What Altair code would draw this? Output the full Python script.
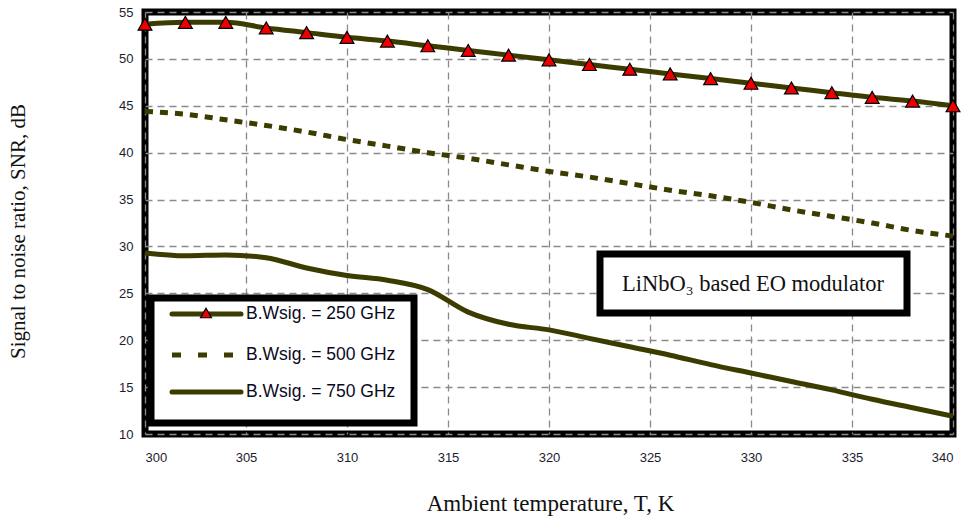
import altair as alt
import pandas as pd

temps = [300, 302, 304, 306, 308, 310, 312, 314, 316, 318, 320,
         322, 324, 326, 328, 330, 332, 334, 336, 338, 340]
snr_250 = [53.7, 53.9, 53.9, 53.3, 52.8, 52.3, 51.9, 51.4, 50.9, 50.4, 49.9,
           49.4, 48.9, 48.4, 47.9, 47.4, 46.9, 46.4, 45.9, 45.5, 45.0]
snr_500 = [44.4, 44.1, 43.5, 42.9, 42.2, 41.4, 40.7, 40.0, 39.4, 38.7, 38.0,
           37.4, 36.7, 36.0, 35.4, 34.7, 33.9, 33.2, 32.5, 31.7, 31.1]
snr_750 = [29.3, 29.0, 29.1, 28.8, 27.7, 26.9, 26.4, 25.4, 23.0, 21.7, 21.1,
           20.2, 19.3, 18.4, 17.4, 16.5, 15.6, 14.7, 13.7, 12.8, 11.9]

legend_labels = ["B.Wsig. = 250 GHz", "B.Wsig. = 500 GHz", "B.Wsig. = 750 GHz"]
x_ticks = [300, 305, 310, 315, 320, 325, 330, 335, 340]
y_ticks = [10, 15, 20, 25, 30, 35, 40, 45, 50, 55]
annotation = "LiNbO₃ based EO modulator"

OLIVE = "#3d3c00"

df = pd.DataFrame({
    "T": temps * 3,
    "SNR": snr_250 + snr_500 + snr_750,
    "series": [legend_labels[0]] * len(temps) + [legend_labels[1]] * len(temps) + [legend_labels[2]] * len(temps),
})

W, H = 808, 422

xs = alt.X("T:Q", scale=alt.Scale(domain=[300, 340], nice=False),
           axis=alt.Axis(values=x_ticks, title="Ambient temperature, T, K", format="d",
                         grid=True, gridDash=[7, 5], gridColor="#8a8a8a", gridWidth=1.3,
                         ticks=False, domain=False, labelPadding=17,
                         labelFont="Liberation Sans", labelFontSize=13, labelColor="#1c1c30",
                         titleFont="Liberation Serif", titleFontSize=23, titleFontWeight="normal",
                         titleColor="#111111", titleX=405, titleY=69, titleBaseline="middle",
                         titleAlign="center"))
ys = alt.Y("SNR:Q", scale=alt.Scale(domain=[10, 55], nice=False),
           axis=alt.Axis(values=y_ticks, title="Signal to noise ratio, SNR, dB",
                         grid=True, gridDash=[7, 5], gridColor="#8a8a8a", gridWidth=1.3,
                         ticks=False, domain=False, labelPadding=12,
                         labelFont="Liberation Sans", labelFontSize=13, labelColor="#1c1c30",
                         titleFont="Liberation Serif", titleFontSize=21, titleFontWeight="normal",
                         titleColor="#111111", titleX=-127, titleY=219, titleAngle=-90,
                         titleBaseline="middle", titleAlign="center"))

base = alt.Chart(df)

line250 = base.transform_filter(alt.datum.series == legend_labels[0]).mark_line(
    color=OLIVE, strokeWidth=5, interpolate="monotone").encode(x=xs, y=ys)
line500 = base.transform_filter(alt.datum.series == legend_labels[1]).mark_line(
    color=OLIVE, strokeWidth=5, strokeDash=[8, 7], interpolate="monotone").encode(x=xs, y=ys)
line750 = base.transform_filter(alt.datum.series == legend_labels[2]).mark_line(
    color=OLIVE, strokeWidth=5, interpolate="monotone").encode(x=xs, y=ys)
tri = base.transform_filter(alt.datum.series == legend_labels[0]).mark_point(
    shape="triangle-up", filled=True, fill="#ee0000", stroke="black", strokeWidth=1.2,
    size=190, opacity=1).encode(x=xs, y=ys)

# Legend box
leg_rows = [302, 343, 380]
leg_box = alt.Chart(pd.DataFrame({"a": [0]})).mark_rect(
    fill="white", stroke="black", strokeWidth=7).encode(
    x=alt.value(6), x2=alt.value(269), y=alt.value(286), y2=alt.value(411))

leg_items = []
for i, lab in enumerate(legend_labels):
    d = pd.DataFrame({"label": [lab]})
    yv = leg_rows[i]
    if i == 1:
        sample = alt.Chart(d).mark_rule(color=OLIVE, strokeWidth=5, strokeDash=[9, 17]).encode(
            x=alt.value(27), x2=alt.value(96), y=alt.value(yv))
    else:
        sample = alt.Chart(d).mark_rule(color=OLIVE, strokeWidth=5, strokeCap="round").encode(
            x=alt.value(27), x2=alt.value(96), y=alt.value(yv))
    leg_items.append(sample)
    leg_items.append(alt.Chart(d).mark_text(align="left", baseline="middle",
                                            font="Liberation Sans", fontSize=17.5,
                                            color="#0a0a1e").encode(
        x=alt.value(101), y=alt.value(yv), text="label:N"))
leg_tri = alt.Chart(pd.DataFrame({"label": [legend_labels[0]]})).mark_point(
    shape="triangle-up", filled=True, fill="#ee0000", stroke="black", strokeWidth=1.2,
    size=120, opacity=1).encode(x=alt.value(61), y=alt.value(leg_rows[0] - 1))

# Annotation box
ann_box = alt.Chart(pd.DataFrame({"a": [0]})).mark_rect(
    fill="white", stroke="black", strokeWidth=7).encode(
    x=alt.value(455), x2=alt.value(762), y=alt.value(242), y2=alt.value(301))
ann_text = alt.Chart(pd.DataFrame({"t": [annotation]})).mark_text(
    font="Liberation Serif", fontSize=22.5, color="#111111", align="center", baseline="middle").encode(
    x=alt.value(608), y=alt.value(272), text="t:N")

chart = alt.layer(line500, line750, line250, tri, ann_box, ann_text, leg_box, *leg_items, leg_tri).properties(
    width=W, height=H,
    autosize=alt.AutoSizeParams(type="none"),
    padding={"left": 145, "top": 12, "right": 18, "bottom": 85},
    background="white",
).configure_view(stroke="black", strokeWidth=7)

chart.save("out.html", embed_options={"renderer": "svg", "actions": False})
